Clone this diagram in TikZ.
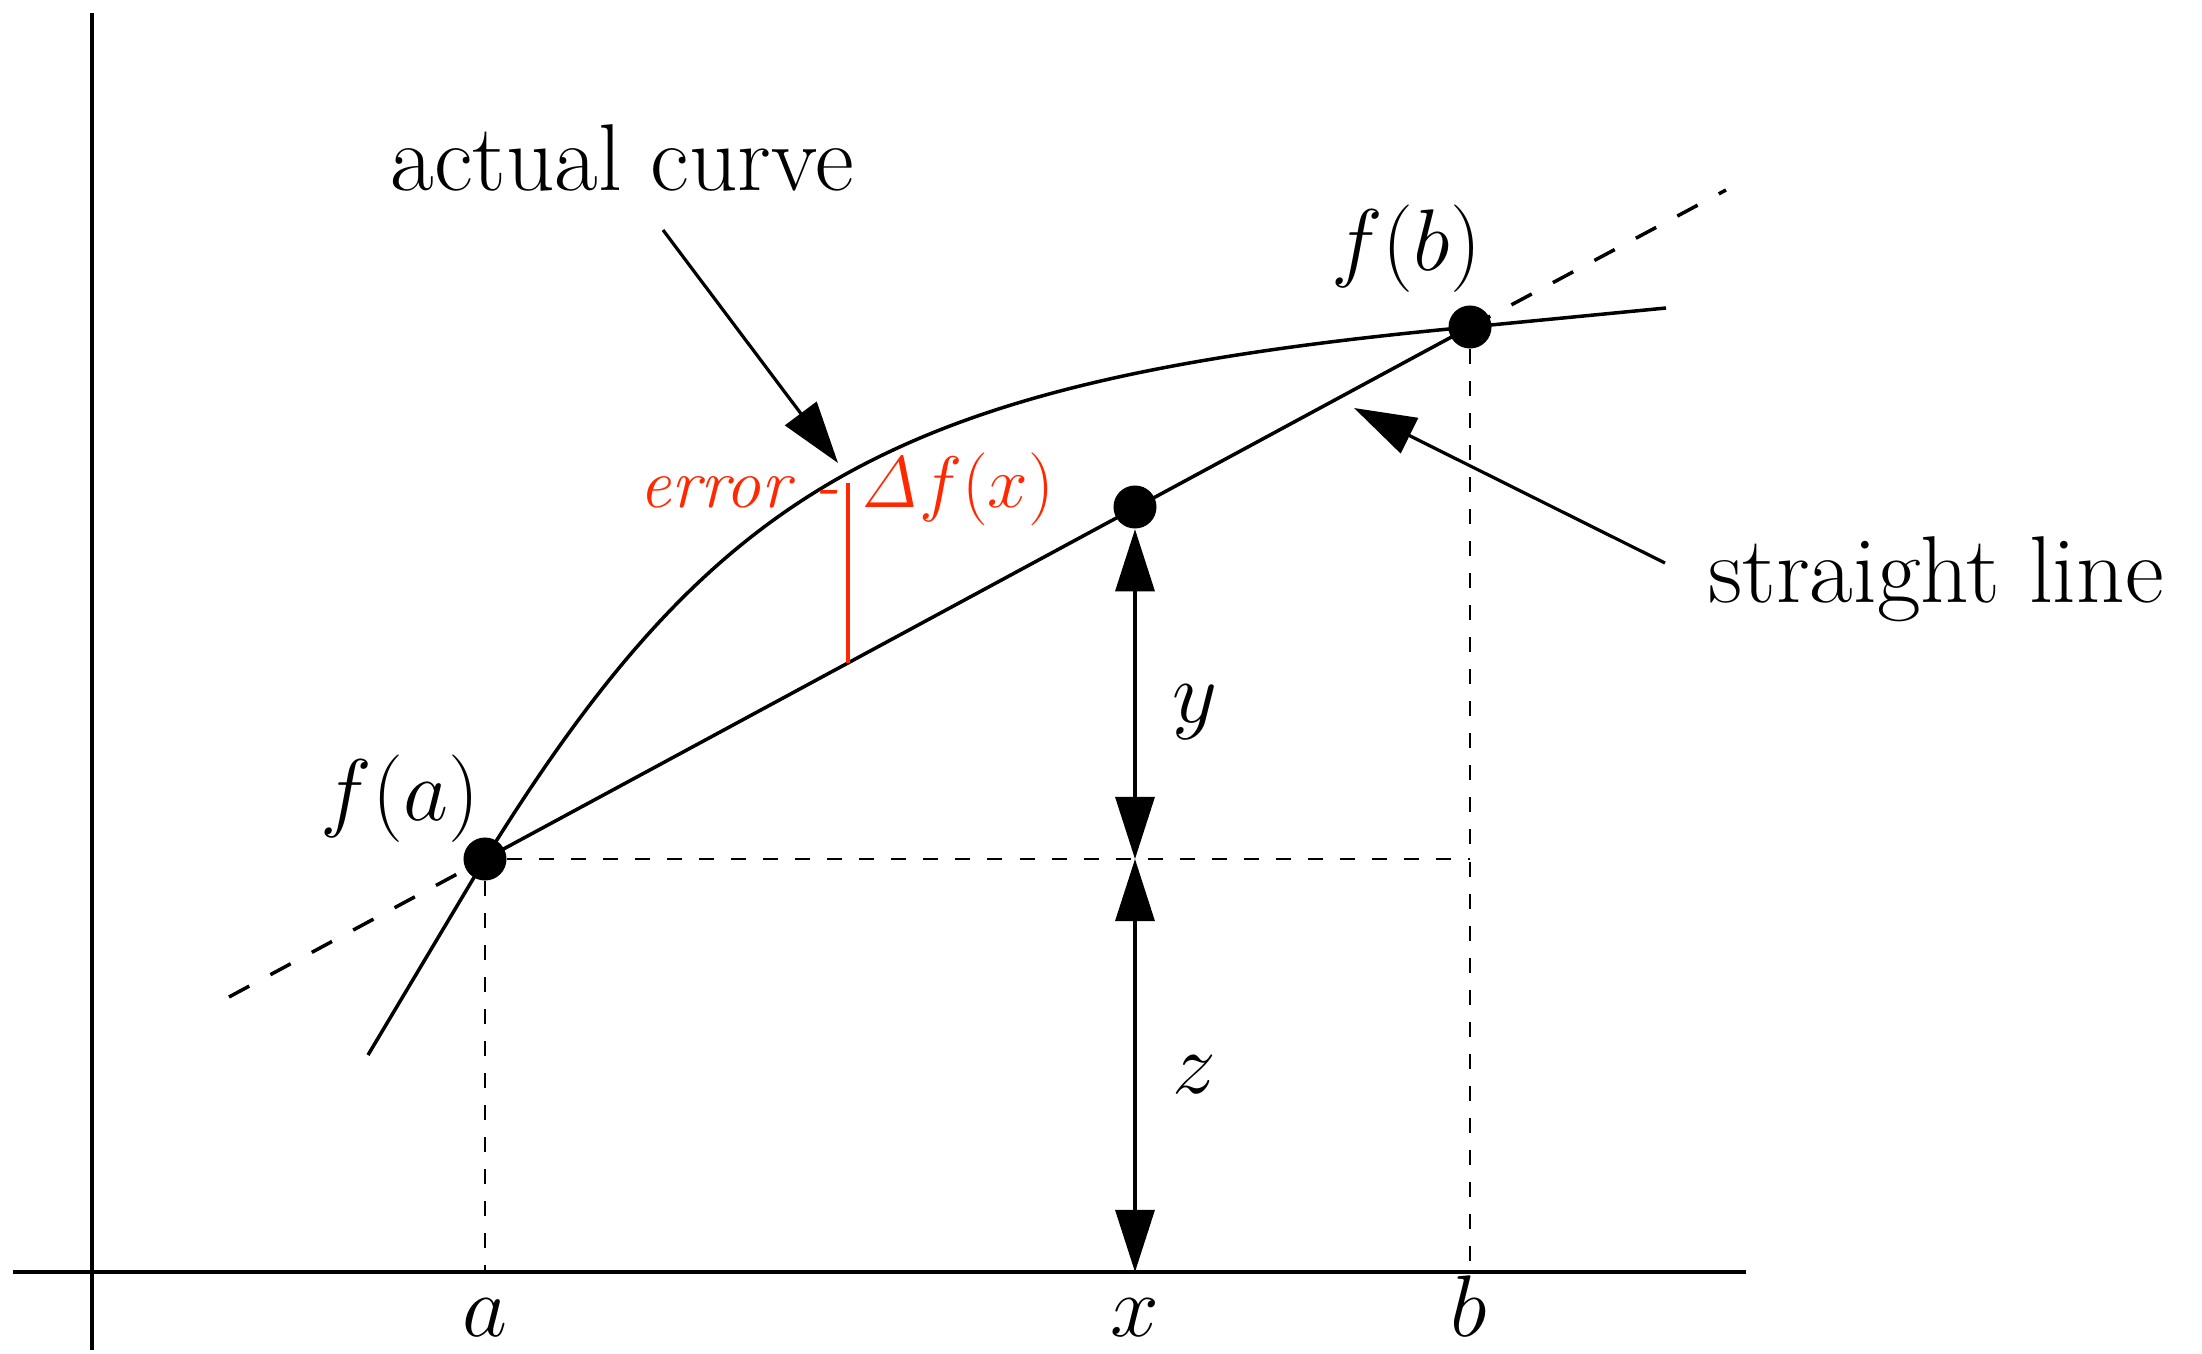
\documentclass[tikz,border=0pt]{standalone}
\usetikzlibrary{arrows.meta}
\definecolor{errred}{RGB}{255,40,0}
\begin{document}
\begin{tikzpicture}[x=0.01cm,y=-0.01cm,
  axis/.style={line width=0.04cm},
  mainline/.style={line width=0.035cm},
  guide/.style={line width=0.022cm, dash pattern=on 0.15cm off 0.17cm},
  ext/.style={line width=0.035cm, dash pattern=on 0.23cm off 0.24cm},
  dot/.style={circle, fill=black, inner sep=0pt, minimum size=0.43cm},
  ptr/.style={line width=0.032cm, -{Triangle[length=0.62cm,width=0.39cm]}},
  dimarrow/.style={line width=0.032cm, {Triangle[length=0.62cm,width=0.39cm]}-{Triangle[length=0.62cm,width=0.39cm]}},
  lab/.style={font=\fontsize{25}{30}\selectfont, inner sep=0pt, anchor=base},
  biglab/.style={font=\fontsize{27}{32}\selectfont, inner sep=0pt, anchor=base},
  errlab/.style={font=\fontsize{20}{24}\selectfont, inner sep=0pt, text=errred},
]
\useasboundingbox (0,0) rectangle (2202,1354);

% axes
\coordinate (ytop) at (92,13);
\coordinate (ybot) at (92,1350);
\coordinate (xl) at (13,1272);
\coordinate (xr) at (1746,1272);
\coordinate (O) at (92,1272);
\draw[axis] (ytop) -- (ybot);
\draw[axis] (xl) -- (xr);

% points
\node[dot] (A) at (485,859) {};
\node[dot] (X) at (1135,507) {};
\node[dot] (B) at (1470,327) {};

% straight line and its extensions
\coordinate (L1) at (229,997);
\coordinate (L2) at (1726,190);
\draw[ext] (L1) -- (A.center);
\draw[ext] (B.center) -- (L2);
\draw[mainline] (A.center) -- (B.center);

% actual curve
\coordinate (C0) at (368,1055);
\coordinate (C9) at (1666,308);
\draw[mainline] (C0) -- (A.center) .. controls (720,480) and (900,380) .. (B.center) -- (C9);

% guides
\draw[guide] (A.east) -- (A -| B);
\draw[guide] (A.south) -- (A |- O);
\draw[guide] (B.south) -- (B |- O);

% dimension arrows
\coordinate (M) at (X |- A);
\coordinate (Xb) at (X |- O);
\draw[dimarrow] (X.south) -- (M);
\draw[dimarrow] (M) -- (Xb);

% error segment
\coordinate (E1) at (848,483);
\coordinate (E2) at (848,663);
\draw[errred, line width=0.035cm] (E1) -- (E2);
\node[errlab, anchor=base east] (err) at (840,507) {\itshape error -};
\node[errlab, anchor=base west] (dfx) at (860,507) {$\mathit{\Delta} f(x)$};

% labels
\node[biglab] (ac) at (622,190) {actual curve};
\node[biglab] (sl) at (1936,602) {straight line};
\node[lab] (fa) at (400,820) {$f(a)$};
\node[lab] (fb) at (1406,270) {$f(b)$};
\node[lab] (ly) at (1195,722) {$y$};
\node[lab] (lz) at (1194,1093) {$z$};
\node[lab] (la) at (485,1336) {$a$};
\node[lab] (lx) at (1135,1336) {$x$};
\node[lab] (lb) at (1469,1336) {$b$};

% pointer arrows
\coordinate (c1) at (663,230);
\coordinate (c2) at (838,463);
\draw[ptr] (c1) -- (c2);
\coordinate (s1) at (1665,563);
\coordinate (s2) at (1354,408);
\draw[ptr] (s1) -- (s2);
\end{tikzpicture}
\end{document}
